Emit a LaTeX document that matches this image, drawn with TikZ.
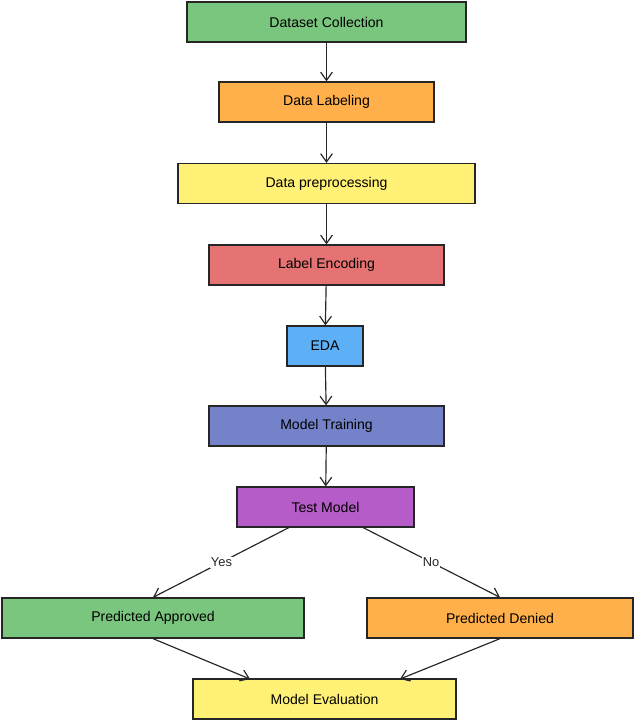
\documentclass[tikz,border=0pt]{standalone}
\usepackage{fontspec}
\setmainfont{Liberation Sans}
\usetikzlibrary{arrows.meta}
\definecolor{cg}{HTML}{7BC67E}
\definecolor{co}{HTML}{FFB04A}
\definecolor{cy}{HTML}{FFF176}
\definecolor{cr}{HTML}{E57373}
\definecolor{cb}{HTML}{5DB0F5}
\definecolor{cs}{HTML}{7483C9}
\definecolor{cp}{HTML}{B55CC8}
\begin{document}
\begin{tikzpicture}[x=0.03cm,y=-0.03cm,
  box/.style={draw=black!85,line width=1.1pt,minimum height=1.2cm,font=\fontsize{12}{14}\selectfont},
  arr/.style={-{Straight Barb[length=7pt,width=10pt]},line width=1pt,black!85},
  lbl/.style={fill=white,inner sep=1pt,font=\fontsize{11}{13}\selectfont}]
\useasboundingbox (0,0) rectangle (636,722);
\node[box,fill=cg,minimum width=8.37cm] (a) at (326.5,22) {Dataset Collection};
\node[box,fill=co,minimum width=6.45cm] (b) at (326.5,102) {Data Labeling};
\node[box,fill=cy,minimum width=8.91cm] (c) at (326.5,183.5) {Data preprocessing};
\node[box,fill=cr,minimum width=7.05cm] (d) at (326.5,265) {Label Encoding};
\node[box,fill=cb,minimum width=2.28cm] (e) at (325,346) {EDA};
\node[box,fill=cs,minimum width=7.05cm] (f) at (326.5,426) {Model Training};
\node[box,fill=cp,minimum width=5.31cm] (g) at (325.5,507) {Test Model};
\node[box,fill=cg,minimum width=9.06cm] (h) at (153,618) {Predicted Approved};
\node[box,fill=co,minimum width=7.98cm] (i) at (500,618) {Predicted Denied};
\node[box,fill=cy,minimum width=7.89cm] (j) at (324.5,699) {Model Evaluation};
\draw[arr] (a) -- (b);
\draw[arr] (b) -- (c);
\draw[arr] (c) -- (d);
\draw[arr] (d) -- (e);
\draw[arr] (e) -- (f);
\draw[arr] (f) -- (g);
\coordinate (gl) at (290,527);
\coordinate (gr) at (362,527);
\draw[arr] (gl) -- node[lbl,pos=0.5]{Yes} (h.north);
\draw[arr] (gr) -- node[lbl,pos=0.5]{No} (i.north);
\draw[arr] (h.south) -- (250,679);
\draw[arr] (i.south) -- (400,679);
\end{tikzpicture}
\end{document}
